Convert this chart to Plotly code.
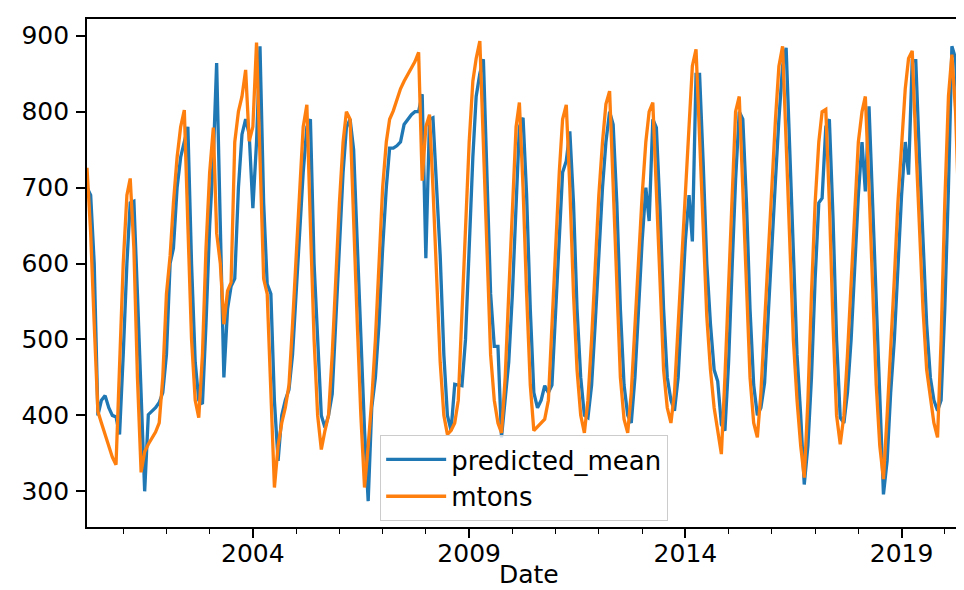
import plotly.graph_objects as go
import pandas as pd

dates = pd.date_range("2000-03-01", "2020-08-01", freq="MS")

mtons = [
    726, 640, 520, 405, 390, 375, 360, 345, 335, 470,                     # 2000 Mar-Dec
    600, 690, 712, 620, 450, 325, 352, 362, 370, 378, 390, 450,           # 2001
    560, 610, 680, 740, 780, 802, 650, 500, 420, 397, 480, 620,           # 2002
    720, 779, 640, 600, 520, 564, 575, 760, 800, 820, 855, 761,           # 2003
    780, 891, 740, 580, 560, 430, 305, 360, 390, 410, 440, 520,           # 2004
    620, 700, 780, 809, 650, 500, 400, 355, 380, 400, 480, 580,           # 2005
    680, 760, 800, 790, 650, 520, 400, 305, 360, 420, 500, 600,           # 2006
    700, 760, 790, 801, 815, 830, 840, 849, 858, 866, 878, 709,           # 2007
    780, 796, 700, 580, 470, 400, 375, 380, 390, 420, 540, 660,           # 2008
    760, 840, 870, 893, 750, 600, 480, 420, 390, 377, 450, 560,           # 2009
    680, 780, 812, 700, 560, 440, 380, 385, 390, 395, 420, 520,           # 2010
    620, 720, 790, 809, 700, 560, 460, 400, 377, 420, 500, 600,           # 2011
    690, 760, 810, 827, 700, 560, 450, 395, 377, 430, 520, 610,           # 2012
    690, 760, 800, 812, 690, 560, 460, 410, 390, 430, 520, 610,           # 2013
    700, 790, 860, 882, 760, 630, 530, 460, 410, 380, 349, 450,           # 2014
    580, 700, 800, 820, 700, 560, 450, 390, 371, 430, 520, 620,           # 2015
    700, 790, 860, 886, 760, 620, 500, 420, 360, 318, 420, 560,           # 2016
    680, 760, 800, 803, 680, 520, 400, 362, 400, 480, 580, 680,           # 2017
    760, 800, 820, 700, 560, 440, 360, 316, 400, 480, 580, 680,           # 2018
    760, 830, 870, 880, 760, 640, 540, 460, 420, 390, 371, 500,           # 2019
    680, 820, 875, 800, 660, 520, 420, 371,                               # 2020 Jan-Aug
]

predicted_mean = [
    700, 690, 600, 400, 420, 426, 410, 400, 398, 375,                     # 2000
    480, 600, 680, 682, 560, 420, 300, 401, 405, 410, 417, 430,           # 2001
    480, 600, 620, 700, 740, 759, 780, 600, 470, 420, 415, 520,           # 2002
    650, 740, 864, 650, 450, 540, 570, 580, 700, 770, 790, 770,           # 2003
    673, 760, 886, 680, 573, 560, 419, 340, 400, 420, 434, 480,           # 2004
    560, 650, 720, 780, 790, 600, 500, 400, 384, 400, 428, 520,           # 2005
    620, 720, 779, 790, 750, 630, 509, 380, 287, 410, 450, 520,           # 2006
    620, 700, 752, 752, 755, 760, 783, 790, 796, 800, 800, 823,           # 2007
    607, 790, 792, 700, 611, 480, 400, 380, 441, 440, 439, 500,           # 2008
    620, 740, 820, 850, 869, 700, 560, 491, 491, 371, 420, 470,           # 2009
    560, 690, 780, 792, 690, 540, 430, 410, 420, 439, 430, 440,           # 2010
    540, 640, 720, 735, 774, 680, 540, 450, 400, 397, 440, 520,           # 2011
    620, 700, 760, 800, 783, 680, 540, 440, 400, 390, 450, 540,           # 2012
    630, 700, 656, 790, 779, 670, 540, 450, 420, 406, 450, 540,           # 2013
    630, 690, 629, 849, 849, 730, 600, 520, 460, 445, 388, 380,           # 2014
    470, 600, 710, 800, 790, 680, 540, 440, 400, 410, 443, 530,           # 2015
    630, 710, 790, 860, 884, 740, 600, 480, 400, 309, 360, 450,           # 2016
    580, 680, 686, 780, 790, 660, 500, 397, 390, 430, 500, 600,           # 2017
    690, 760, 695, 807, 680, 540, 420, 296, 340, 430, 500, 600,           # 2018
    690, 760, 717, 867, 867, 740, 620, 520, 450, 420, 406, 420,           # 2019
    540, 700, 886, 870, 760, 620, 500, 420,                               # 2020
]

major_vals = ["2004-01-01", "2009-01-01", "2014-01-01", "2019-01-01"]
major_text = ["2004", "2009", "2014", "2019"]
y_ticks = [300, 400, 500, 600, 700, 800, 900]

FONT = "DejaVu Sans"
FS = 25

fig = go.Figure()
fig.add_trace(go.Scatter(x=dates, y=predicted_mean, mode="lines", name="predicted_mean",
                         line=dict(color="#1f77b4", width=3.3)))
fig.add_trace(go.Scatter(x=dates, y=mtons, mode="lines", name="mtons",
                         line=dict(color="#ff7f0e", width=3.3)))

fig.update_layout(
    template="none",
    width=964, height=590,
    margin=dict(l=79, r=2, t=11, b=71, autoexpand=False),
    paper_bgcolor="white", plot_bgcolor="white",
    font=dict(family=FONT, size=FS, color="black"),
    showlegend=True,
    legend=dict(x=0.332, y=0.181, xanchor="left", yanchor="top",
                bgcolor="rgba(255,255,255,0.8)", bordercolor="#cccccc", borderwidth=1,
                font=dict(family=FONT, size=26, color="black"),
                itemwidth=60, tracegroupgap=0),
    xaxis=dict(
        type="date", range=["2000-03-01", "2020-08-01"], automargin=False,
        showgrid=False, zeroline=False,
        showline=True, linecolor="black", linewidth=1.8, mirror=True,
        ticks="outside", ticklen=9, tickwidth=1.8, tickcolor="black",
        tickvals=major_vals, ticktext=major_text, ticklabelstandoff=-6,
        minor=dict(ticks="outside", ticklen=5, tickwidth=1.4, tickcolor="black",
                   dtick="M12", tick0="2000-01-01", showgrid=False),
    ),
    yaxis=dict(
        range=[253, 922], automargin=False,
        showgrid=False, zeroline=False,
        showline=True, linecolor="black", linewidth=1.8, mirror=True,
        ticks="outside", ticklen=9, tickwidth=1.8, tickcolor="black",
        tickvals=y_ticks, ticklabelstandoff=2,
    ),
    annotations=[dict(text="Date", xref="paper", yref="paper", x=0.5, y=-0.094,
                      xanchor="center", yanchor="middle", showarrow=False,
                      font=dict(family=FONT, size=FS, color="black"))],
)

fig.write_html("out.html")
